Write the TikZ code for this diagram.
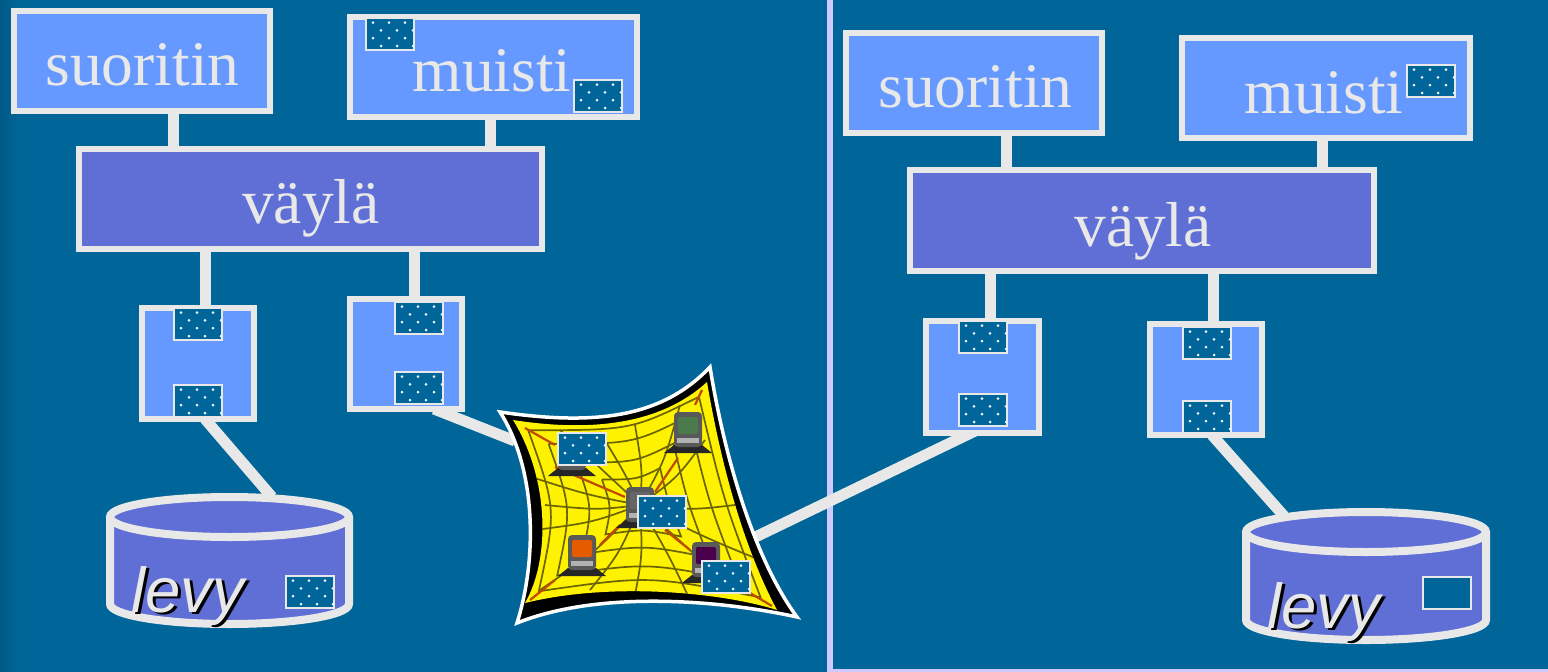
\documentclass[tikz,border=0pt]{standalone}
\usepackage{fontspec}
\setmainfont{Liberation Serif}
\setsansfont{Liberation Sans}
\usetikzlibrary{calc}
\definecolor{bg}{HTML}{006699}
\definecolor{ln}{HTML}{E8E8E8}
\definecolor{lite}{HTML}{6699FF}
\definecolor{mid}{HTML}{5F6FD6}
\definecolor{rule}{HTML}{CFCBFF}
\definecolor{webc}{HTML}{FFF200}
\definecolor{webl}{HTML}{6B6400}
\definecolor{hotl}{HTML}{C04A00}
\tikzset{
 x=1pt,y=-1pt,
 lbl/.style={text=ln,font=\fontsize{63.5}{64}\selectfont,anchor=base,inner sep=0pt},
 wire/.style={draw=ln,line width=11pt},
 blk/.style={draw=ln,line width=2pt,fill=bg,inner sep=0pt,outer sep=0pt,minimum width=48pt,minimum height=32pt,anchor=north west},
 web/.style={draw=webl,line width=1.7pt},
 hot/.style={draw=hotl,line width=2.2pt},
}
% \bx{name}{left}{top}{right}{bottom}{fill}
\newcommand{\bx}[6]{\node[draw=ln,line width=6pt,fill=#6,inner sep=0pt,outer sep=0pt,anchor=north west,
  minimum width=#4pt-#2pt,minimum height=#5pt-#3pt] (#1) at (#2,#3) {};}
% dotted block: name, left, top
\newcommand{\dotblk}[3]{\node[blk] (#1) at (#2,#3) {};
 \foreach \r/\yy in {0/4.7,1/12.4,2/20.2,3/28}{
  \pgfmathsetmacro{\off}{mod(\r,2)*8}
  \foreach \c in {7,23,39}{
   \fill[white!92!bg] ($(#2,#3)+(\c+\off,\yy)$) circle (1.5pt);}}}
% disk: name,left,right,top,bottom (centre lines of the stroke)
\newcommand{\disk}[5]{
 \pgfmathsetmacro{\cx}{(#2+#3)/2}\pgfmathsetmacro{\rx}{(#3-#2)/2}
 \fill[mid] (#2,#4+20) arc[start angle=180,end angle=0,x radius=\rx,y radius=-20]
   -- (#3,#5-20) arc[start angle=0,end angle=180,x radius=\rx,y radius=20] -- cycle;
 \draw[ln,line width=8pt] (#2,#4+20) -- (#2,#5-20) arc[start angle=180,end angle=0,x radius=\rx,y radius=20] -- (#3,#4+20);
 \draw[ln,line width=8pt] (\cx,#4+20) ellipse[x radius=\rx,y radius=20];
 \node[inner sep=0pt,outer sep=0pt,minimum width=#3pt-#2pt,minimum height=#5pt-#4pt,anchor=north west] (#1) at (#2,#4) {};}
\newcommand{\shadowtxt}[4]{
 \node[lbl,text=black,font=\fontsize{63.5}{64}\selectfont\sffamily\itshape] (#1s) at (#2+2.5,#3+2.5) {#4};
 \node[lbl,font=\fontsize{63.5}{64}\selectfont\sffamily\itshape] (#1) at (#2,#3) {#4};}
\newcommand{\pc}[4]{% name,x,y,screen colour
 \fill[black!85] (#2-24,#3+23) -- (#2+24,#3+23) -- (#2+14,#3+15) -- (#2-14,#3+15) -- cycle;
 \fill[black!65,rounded corners=4pt] (#2-14,#3-18) rectangle (#2+14,#3+17);
 \fill[#4,rounded corners=2pt] (#2-10,#3-13) rectangle (#2+10,#3+4);
 \fill[black!30] (#2-11,#3+8) rectangle (#2+11,#3+13);
 \coordinate (#1) at (#2,#3);}
\newcommand{\sheetin}{(513,420) .. controls (590,432) and (660,425) .. (707,382)
  .. controls (722,470) and (745,550) .. (777,610)
  .. controls (720,592) and (610,582) .. (525,603)
  .. controls (550,560) and (550,480) .. (513,420) -- cycle}
\newcommand{\sheetout}{(500,412) .. controls (590,425) and (660,420) .. (710,367)
  .. controls (725,460) and (755,560) .. (797,617)
  .. controls (720,600) and (600,590) .. (517,623)
  .. controls (537,560) and (537,470) .. (500,412) -- cycle}
\begin{document}
\begin{tikzpicture}
\useasboundingbox (0,0) rectangle (1548,672);
\fill[bg] (0,0) rectangle (1548,672);
\shade[left color=bg!88!black,right color=bg] (0,0) rectangle (20,672);
\coordinate (r1) at (830,0); \coordinate (r2) at (830,670.8); \coordinate (r3) at (1548,670.8);
\draw[rule,line width=3pt] (r2) -- (r3);
\draw[rule,line width=5.5pt] (r1) -- (830,672);

% named places
\node[inner sep=0pt,outer sep=0pt,minimum width=297pt,minimum height=256pt,anchor=north west] (net) at (500,367) {};
\coordinate (ne) at (745,542);
\coordinate (nw) at (515,441);

% wires, drawn first; boxes are drawn over their ends
\coordinate (a1) at (205,419); \coordinate (a2) at (272,497);
\coordinate (b1) at (434,409);
\coordinate (c1) at (975,431);
\coordinate (d1) at (1212,435); \coordinate (d2) at (1284,516);
\draw[wire] (a1) -- (a2);
\draw[wire] (b1) -- (nw);
\draw[wire] (c1) -- (ne);
\draw[wire] (d1) -- (d2);

% boxes
\bx{suoL}{14}{11}{270}{111}{lite}
\bx{memL}{350}{17}{637}{117}{lite}
\bx{busL}{79}{149}{542}{249}{mid}
\bx{ctlA}{142}{308}{254}{419}{lite}
\bx{ctlB}{350}{299}{462}{409}{lite}
\bx{suoR}{846}{33}{1102}{133}{lite}
\bx{memR}{1182}{38}{1470}{138}{lite}
\bx{busR}{910}{170}{1374}{271}{mid}
\bx{ctlC}{926}{321}{1039}{433}{lite}
\bx{ctlD}{1150}{324}{1262}{435}{lite}

\draw[wire] (173,0 |- suoL.south) -- (173,0 |- busL.north);
\draw[wire] (490,0 |- memL.south) -- (490,0 |- busL.north);
\draw[wire] (205,0 |- busL.south) -- (205,0 |- ctlA.north);
\draw[wire] (414,0 |- busL.south) -- (414,0 |- ctlB.north);
\draw[wire] (1006,0 |- suoR.south) -- (1006,0 |- busR.north);
\draw[wire] (1322,0 |- memR.south) -- (1322,0 |- busR.north);
\draw[wire] (990,0 |- busR.south) -- (990,0 |- ctlC.north);
\draw[wire] (1213,0 |- busR.south) -- (1213,0 |- ctlD.north);

% disks
\disk{dskL}{110}{349}{497}{624}
\disk{dskR}{1246}{1486}{512}{640}

% the network
\draw[white,line width=3.5pt,line join=miter,fill=black] \sheetout;
\fill[webc] \sheetin;
\begin{scope}
\clip \sheetin;
\foreach \a/\b in {525/475,545/505,560/430,600/432,635/425,680/405,705/440,735/505,760/560,735/590,690/600,635/595,590/590,540/590,535/530}{
  \draw[web] (640,505) .. controls ($(640,505)!.5!(\a,\b)+(5,5)$) .. (\a,\b);}
\foreach \s in {.3,.5,.72,.88}{
  \draw[web] ($(640,505)!\s!(513,420)$) .. controls ($(640,505)!\s!(630,420)$) .. ($(640,505)!\s!(707,382)$)
   .. controls ($(640,505)!\s!(735,500)$) .. ($(640,505)!\s!(777,610)$)
   .. controls ($(640,505)!\s!(650,585)$) .. ($(640,505)!\s!(525,603)$)
   .. controls ($(640,505)!\s!(545,510)$) .. ($(640,505)!\s!(513,420)$);}
\foreach \a/\b/\c/\d in {525/428/555/445, 555/467/625/497, 702/390/695/405, 678/458/655/492,
   772/606/745/590, 665/530/690/550, 530/600/555/580, 600/545/620/525}{
  \draw[hot] (\a,\b) -- (\c,\d);}
\end{scope}
\pc{pcA}{688}{430}{black!55!green!40!gray}
\pc{pcB}{572}{453}{gray}
\pc{pcC}{582}{553}{orange!80!red!90!black}
\pc{pcD}{640}{505}{black!60}
\pc{pcE}{706}{560}{violet!60!black}

% text
\node[lbl] (t1) at (142.5,85) {suoritin};
\node[lbl] (t2) at (492,91) {muisti};
\node[lbl] (t3) at (311,223) {väylä};
\node[lbl] (t4) at (975.5,107) {suoritin};
\node[lbl] (t5) at (1324,113) {muisti};
\node[lbl] (t6) at (1143,246) {väylä};
\shadowtxt{t7}{188}{612}{levy}
\shadowtxt{t8}{1324}{628}{levy}

% data blocks
\dotblk{m1}{366}{18}
\dotblk{m2}{574}{80}
\dotblk{c1a}{174}{308}
\dotblk{c1b}{174}{385}
\dotblk{c2a}{395}{302}
\dotblk{c2b}{395}{372}
\dotblk{d1b}{286}{576}
\dotblk{n1}{558}{433}
\dotblk{n2}{638}{496}
\dotblk{n3}{702}{561}
\dotblk{m3}{1407}{65}
\dotblk{c3a}{959}{321}
\dotblk{c3b}{959}{394}
\dotblk{c4a}{1183}{327}
\dotblk{c4b}{1183}{401}
\node[blk] (e1) at (1423,577) {};
\end{tikzpicture}
\end{document}
